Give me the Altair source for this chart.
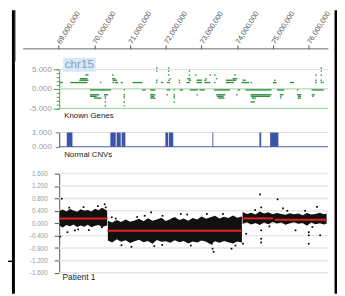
import altair as alt
import pandas as pd

FONT = "Liberation Sans"
MINUS = "\u2212"

# ---------------- data ----------------
x_ticks = [69e6, 70e6, 71e6, 72e6, 73e6, 74e6, 75e6, 76e6]
gene_ticks = [-5, 0, 5]
gene_minor_ticks = [-5, -4, -3, -2, -1, 0, 1, 2, 3, 4, 5]
cnv_ticks = [0, 1]
patient_ticks = [-1.6, -1.2, -0.8, -0.4, 0.0, 0.4, 0.8, 1.2, 1.6]
panel_titles = ["Known Genes", "Normal CNVs", "Patient 1"]
chrom_label = "chr15"

# Known genes (Mb start, Mb end, track level)
gene_start = [69.05, 69.35, 70.18, 70.53, 70.59, 70.76, 71.09, 71.75, 71.88, 72.05, 72.38, 72.60, 72.88, 73.10, 73.37, 73.70, 74.14, 74.39, 75.02, 75.49, 76.20, 76.35, 76.40,
              69.60, 70.53, 71.75, 72.09, 72.38, 72.66, 72.88, 73.10, 73.70, 74.17, 75.05, 76.20, 76.35,
              69.62, 70.52, 72.13, 72.62, 73.13, 73.42, 73.89,
              69.77, 70.52, 72.08, 72.66, 72.84, 73.24, 73.37, 73.94, 76.20, 76.35,
              71.75, 72.08, 72.66, 76.35,
              71.75, 72.08, 76.35,
              69.90, 70.20, 70.84, 71.36, 71.58, 72.05, 72.24, 72.41, 72.69, 72.96, 73.37, 74.03, 74.25, 75.13, 75.69, 76.10,
              69.90, 70.29, 70.84, 71.58, 72.04, 72.24, 72.88, 73.43, 73.99, 74.39, 75.21, 75.69, 76.10,
              69.90, 70.31, 70.84, 71.60, 72.24, 73.45, 74.40, 75.22, 75.72, 76.12,
              70.01, 70.31, 70.84, 71.58, 72.24, 73.48, 74.43, 75.22, 75.71,
              70.31, 70.84, 72.24, 74.39,
              70.31, 70.84]
gene_end = [69.10, 69.79, 70.18, 70.53, 70.65, 70.78, 71.33, 71.75, 71.91, 72.10, 72.38, 72.66, 72.99, 73.23, 73.37, 73.89, 74.31, 74.39, 75.08, 75.57, 76.20, 76.35, 76.40,
            69.82, 70.62, 71.75, 72.09, 72.38, 72.69, 72.99, 73.12, 73.95, 74.22, 75.05, 76.20, 76.35,
            69.79, 70.57, 72.13, 72.67, 73.13, 73.42, 73.98,
            69.82, 70.52, 72.08, 72.66, 72.84, 73.24, 73.37, 73.94, 76.20, 76.35,
            71.75, 72.08, 72.66, 76.35,
            71.75, 72.08, 76.35,
            70.18, 70.45, 70.84, 71.42, 71.69, 72.10, 72.24, 72.46, 72.88, 73.07, 73.78, 74.06, 74.94, 75.30, 75.69, 76.40,
            70.12, 70.37, 70.84, 71.69, 72.04, 72.24, 72.88, 73.65, 73.99, 74.94, 75.27, 75.77, 76.15,
            70.05, 70.31, 70.84, 71.66, 72.24, 73.60, 74.90, 75.22, 75.76, 76.12,
            70.18, 70.31, 70.84, 71.69, 72.24, 73.62, 74.50, 75.22, 75.76,
            70.31, 70.84, 72.24, 74.47,
            70.31, 70.84]
gene_level = ([1.65] * 23 + [2.25] * 13 + [2.65] * 7 + [3.6] * 10 + [4.6] * 4 + [5.4] * 3 +
              [-0.25] * 16 + [-1.5] * 13 + [-1.9] * 10 + [-2.35] * 9 + [-3.35] * 4 + [-4.35] * 2)

# Normal CNVs (Mb)
cnv_start = [69.23, 70.45, 70.625, 70.765, 71.99, 72.09, 73.305, 74.62, 74.92]
cnv_end = [69.39, 70.60, 70.74, 70.87, 72.07, 72.21, 73.33, 74.67, 75.15]
cnv_value = 1

# Patient 1: dense point cloud envelope per segment (Mb, upper, lower)
band_seg = [1] * 15 + [2] * 31 + [3] * 21
band_x = [69.03, 69.12, 69.22, 69.32, 69.42, 69.52, 69.62, 69.72, 69.82, 69.92, 70.02, 70.12, 70.22, 70.30, 70.36,
          70.38, 70.50, 70.63, 70.75, 70.88, 71.00, 71.13, 71.25, 71.38, 71.50, 71.63, 71.75, 71.88, 72.00, 72.13, 72.25,
          72.38, 72.50, 72.63, 72.75, 72.88, 73.00, 73.13, 73.25, 73.38, 73.50, 73.63, 73.75, 73.88, 74.00, 74.13,
          74.15, 74.27, 74.39, 74.51, 74.63, 74.75, 74.87, 74.99, 75.11, 75.23, 75.35, 75.47, 75.59, 75.71, 75.83, 75.95,
          76.07, 76.19, 76.31, 76.43, 76.50]
band_upper = [0.40, 0.44, 0.38, 0.46, 0.41, 0.37, 0.45, 0.40, 0.43, 0.38, 0.47, 0.42, 0.50, 0.44, 0.40,
              0.08, 0.02, 0.10, 0.04, 0.12, 0.05, 0.09, 0.14, 0.06, 0.16, 0.08, 0.12, 0.18, 0.07, 0.13, 0.20,
              0.10, 0.15, 0.08, 0.17, 0.12, 0.22, 0.14, 0.19, 0.24, 0.15, 0.21, 0.17, 0.25, 0.18, 0.22,
              0.36, 0.30, 0.34, 0.28, 0.38, 0.31, 0.35, 0.29, 0.33, 0.30, 0.27, 0.32, 0.29, 0.31, 0.26, 0.33,
              0.28, 0.30, 0.34, 0.29, 0.31]
band_lower = [-0.08, -0.14, -0.06, -0.10, -0.04, -0.12, -0.07, -0.11, -0.05, -0.13, -0.08, -0.06, -0.12, -0.09, -0.07,
              -0.56, -0.62, -0.52, -0.60, -0.55, -0.64, -0.58, -0.53, -0.61, -0.57, -0.66, -0.54, -0.60, -0.58, -0.63, -0.55,
              -0.61, -0.57, -0.65, -0.59, -0.62, -0.56, -0.60, -0.68, -0.58, -0.63, -0.57, -0.61, -0.65, -0.59, -0.62,
              -0.02, 0.03, -0.04, 0.01, -0.06, 0.02, -0.03, 0.04, -0.01, 0.02, -0.05, 0.00, 0.03, -0.02, 0.01, -0.08,
              0.02, -0.03, 0.00, -0.04, -0.01]

# scattered outlier probes (Mb, log ratio)
pt_x = [69.09, 69.05, 69.25, 69.46, 70.29, 70.32, 70.21, 70.49, 70.76, 71.04, 71.59, 71.68, 72.19, 71.91, 71.41,
        72.42, 73.15, 73.29, 73.34, 73.31, 73.84, 74.16, 74.64, 75.13, 74.67, 74.67, 74.67, 74.67, 74.25, 76.0,
        76.0, 76.0, 76.23, 76.32, 75.28, 75.63,
        69.3, 69.7, 70.1, 69.55, 69.85, 70.6, 71.2, 71.9, 72.6, 72.7, 73.6, 73.95, 74.5, 74.9, 75.4, 75.9, 76.1]
pt_y = [0.79, -0.43, -0.29, -0.23, 0.61, 0.51, -0.13, 0.19, -0.71, -0.76, 0.35, -0.74, 0.14, 0.24, 0.24,
        0.30, 0.30, -0.66, -0.92, -0.82, -0.82, -0.66, 0.93, 0.77, 0.51, -0.23, -0.50, -0.62, -0.34, -0.29,
        -0.39, -0.66, 0.53, -0.39, 0.48, -0.23,
        0.50, 0.52, 0.55, -0.20, -0.22, 0.15, 0.20, -0.70, 0.28, -0.72, 0.30, -0.72, 0.42, -0.10, 0.40, 0.40, -0.12]

# segmentation means
seg_start = [69.02, 70.37, 74.14, 75.05]
seg_end = [70.37, 74.14, 75.00, 76.50]
seg_mean = [0.15, -0.24, 0.155, 0.11]

# ---------------- frames ----------------
MB = 1e6
genes_df = pd.DataFrame({"start": [v * MB for v in gene_start], "end": [v * MB for v in gene_end], "level": gene_level})
cnv_df = pd.DataFrame({"start": [v * MB for v in cnv_start], "end": [v * MB for v in cnv_end]})
band_df = pd.DataFrame({"seg": band_seg, "x": [v * MB for v in band_x], "upper": band_upper, "lower": band_lower})
pts_df = pd.DataFrame({"x": [v * MB for v in pt_x], "y": pt_y})
seg_df = pd.DataFrame({"start": [v * MB for v in seg_start], "end": [v * MB for v in seg_end], "mean": seg_mean})
pat_grid_df = pd.DataFrame({"v": patient_ticks})
dummy = pd.DataFrame({"a": [0]})

# ---------------- scales ----------------
xs = alt.Scale(domain=[69.0e6, 76.5e6], range=[51.3, 323.45], nice=False, zero=False)
gys = alt.Scale(domain=[-5, 5], range=[99.7, 60.3], nice=False, zero=False)
cys = alt.Scale(domain=[0, 1], range=[138.7, 124.2], nice=False, zero=False)
pys = alt.Scale(domain=[-1.6, 1.6], range=[266.7, 165.9], nice=False, zero=False)

fmt_expr = "replace(format(datum.value, '.3f'), '" + MINUS + "', '-')"

top_axis = alt.Axis(orient="top", offset=-39.3, values=x_ticks, format=",d", domain=False,
                    tickSize=4, tickColor="#555", labelAngle=302, labelAlign="left",
                    labelBaseline="middle", labelFont=FONT, labelFontSize=7.5, labelColor="#555",
                    labelPadding=2, labelOverlap=False, labelBound=False, labelFlush=False,
                    title=None, grid=False)

gene_axis = alt.Axis(orient="left", offset=-52, values=gene_minor_ticks, tickSize=3,
                     tickColor="#4aa04a", domainColor="#4aa04a",
                     labelExpr="datum.value % 5 == 0 ? " + fmt_expr + " : ''",
                     labelFont=FONT, labelFontSize=8, labelColor="#9a9a9a", labelPadding=5,
                     title=None, grid=False)
gene_major_axis = alt.Axis(orient="left", offset=-52, values=gene_ticks, tickSize=6,
                           tickColor="#4aa04a", domain=False, labels=False, title=None, grid=False)
cnv_axis = alt.Axis(orient="left", offset=-52, values=cnv_ticks, tickSize=4, tickColor="#777",
                    domainColor="#34479a", labelExpr=fmt_expr, labelFont=FONT, labelFontSize=8,
                    labelColor="#9a9a9a", labelPadding=4, title=None, grid=False)
pat_axis = alt.Axis(orient="left", offset=-52, values=patient_ticks, tickSize=5, tickColor="#555",
                    domainColor="#555", labelExpr=fmt_expr, labelFont=FONT, labelFontSize=6.5,
                    labelColor="#9a9a9a", labelPadding=7, title=None, grid=False)


def hline(value, scale, color, width=1.0, axis=None):
    return alt.Chart(dummy).mark_rule(color=color, strokeWidth=width).encode(
        x=alt.value(52), x2=alt.value(325),
        y=alt.YDatum(value, type="quantitative", scale=scale, axis=axis))


# ---------------- layers ----------------
layers = []

# frame decoration
layers.append(alt.Chart(dummy).mark_rule(color="black", strokeWidth=3).encode(
    x=alt.value(5.5), y=alt.value(0), y2=alt.value(288)))
layers.append(alt.Chart(dummy).mark_rule(color="#6b93c6", strokeWidth=1).encode(
    x=alt.value(7.5), y=alt.value(0), y2=alt.value(52)))
layers.append(alt.Chart(dummy).mark_rule(color="black", strokeWidth=2.5).encode(
    x=alt.value(332.75), y=alt.value(0), y2=alt.value(288)))
layers.append(alt.Chart(dummy).mark_rule(color="black", strokeWidth=1.5).encode(
    x=alt.value(0), x2=alt.value(5), y=alt.value(255)))
# top axis line
layers.append(alt.Chart(dummy).mark_rule(color="#666", strokeWidth=1).encode(
    x=alt.value(15.3), x2=alt.value(325.3), y=alt.value(39.3)))

# genes grid
layers.append(hline(gene_ticks[2], gys, "#dddddd", 1.0, gene_major_axis))
layers.append(hline(gene_ticks[1], gys, "#b3dcb3", 1.2))
layers.append(hline(gene_ticks[0], gys, "#8fcf8f", 1.0))
# chr15 label box
layers.append(alt.Chart(dummy).mark_rect(color="#d6e7f7").encode(
    x=alt.value(56), x2=alt.value(89), y=alt.value(48.5), y2=alt.value(62.5)))
layers.append(alt.Chart(dummy).mark_text(align="left", baseline="alphabetic", font=FONT, fontSize=12,
                                         color="#8aa0b8").encode(
    x=alt.value(57.5), y=alt.value(59), text=alt.value(chrom_label)))
# genes
layers.append(alt.Chart(genes_df).mark_rule(color="#2f8f3f", strokeWidth=1.4, strokeCap="square").encode(
    x=alt.X("start:Q", scale=xs, axis=top_axis),
    x2="end:Q",
    y=alt.Y("level:Q", scale=gys, axis=gene_axis)))

# CNV grid + bars
layers.append(hline(cnv_ticks[1], cys, "#dddddd", 1.2))
layers.append(hline(cnv_ticks[0], cys, "#4a5fae", 1.2))
layers.append(alt.Chart(cnv_df).mark_rect(color="#3c54a5").encode(
    x=alt.X("start:Q", scale=xs, axis=None),
    x2="end:Q",
    y=alt.YDatum(cnv_value, type="quantitative", scale=cys, axis=cnv_axis),
    y2=alt.Y2Datum(0)))

# patient grid
layers.append(alt.Chart(pat_grid_df).mark_rule(strokeWidth=1.5, color="#e6e6e6").encode(
    x=alt.value(52), x2=alt.value(325),
    y=alt.Y("v:Q", scale=pys, axis=None)))
# patient cloud
layers.append(alt.Chart(band_df).mark_area(color="#111111").encode(
    x=alt.X("x:Q", scale=xs, axis=None),
    y=alt.Y("upper:Q", scale=pys, axis=pat_axis),
    y2="lower:Q",
    detail="seg:N"))
layers.append(alt.Chart(pts_df).mark_square(size=3, color="black", opacity=1).encode(
    x=alt.X("x:Q", scale=xs, axis=None),
    y=alt.Y("y:Q", scale=pys, axis=None)))
layers.append(alt.Chart(seg_df).mark_rule(color="#e4221c", strokeWidth=2).encode(
    x=alt.X("start:Q", scale=xs, axis=None),
    x2="end:Q",
    y=alt.Y("mean:Q", scale=pys, axis=None)))

# panel titles
title_pos = [(57, 109, 8), (57, 149, 8), (55.3, 273.5, 8.5)]
for t, (tx, ty, fs) in zip(panel_titles, title_pos):
    layers.append(alt.Chart(dummy).mark_text(align="left", baseline="alphabetic", font=FONT,
                                             fontSize=fs, color="#222").encode(
        x=alt.value(tx), y=alt.value(ty), text=alt.value(t)))

chart = alt.layer(*layers).properties(
    width=334, height=288, padding=0,
    autosize=alt.AutoSizeParams(type="none"),
).resolve_scale(y="independent").resolve_axis(x="independent", y="independent").configure_view(stroke=None)

chart.save("out.html", embed_options={"renderer": "svg", "actions": False})
